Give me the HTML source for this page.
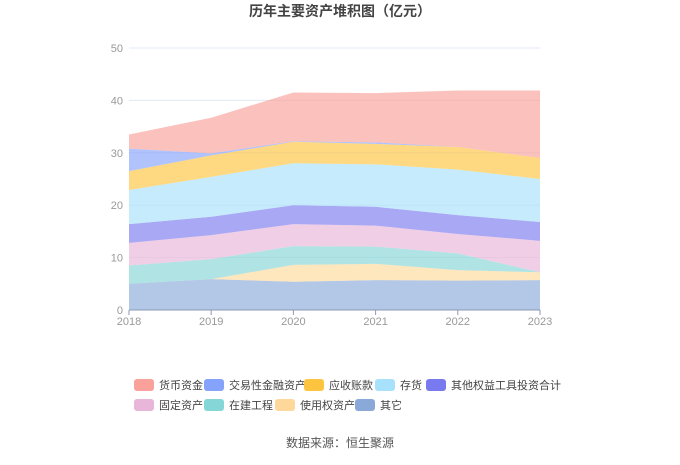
<!DOCTYPE html>
<html><head><meta charset="utf-8">
<style>
body{margin:0;background:#fff;font-family:"Liberation Sans","Noto Sans CJK SC",sans-serif;}
svg text{font-family:"Liberation Sans","Noto Sans CJK SC",sans-serif;}
</style></head>
<body>
<svg id="chart" width="680" height="460" viewBox="0 0 680 460" xmlns="http://www.w3.org/2000/svg">
<text x="340" y="16" text-anchor="middle" font-size="14" font-weight="bold" fill="#444">历年主要资产堆积图（亿元）</text>
<g id="grid"></g><g id="areas"></g><g id="axes"></g><g id="legend"></g>
<text x="340" y="447" text-anchor="middle" font-size="12" fill="#555">数据来源：恒生聚源</text>
</svg>
<script>
const years = ["2018","2019","2020","2021","2022","2023"];
const seriesNames = ["其它","使用权资产","在建工程","固定资产","其他权益工具投资合计","存货","应收账款","交易性金融资产","货币资金"];
const qita = [5.0,5.9,5.4,5.7,5.6,5.7];
const shiyongquan = [0,0,3.2,3.1,2.0,1.5];
const zaijian = [3.5,3.8,3.6,3.3,3.2,0];
const guding = [4.3,4.6,4.2,4.0,3.7,6.0];
const qitaquanyi = [3.6,3.5,3.6,3.6,3.6,3.6];
const cunhuo = [6.5,7.6,8.0,8.1,8.7,8.2];
const yingshou = [3.6,4.1,4.1,3.9,4.3,4.0];
const jiaoyi = [4.3,0.4,0.1,0.3,0,0];
const huobi = [2.7,6.8,9.3,9.4,10.8,12.9];
const yTicks = [0,10,20,30,40,50];
const seriesData = [qita,shiyongquan,zaijian,guding,qitaquanyi,cunhuo,yingshou,jiaoyi,huobi];
const areaColors = ["#8aa9d9","#fdd89a","#85d6d6","#e8b6d8","#7a7af0","#a8e1fb","#fdc43f","#85a3fb","#f9a19a"];
const legendColors = areaColors;
const NS="http://www.w3.org/2000/svg";
const x0=129,x1=540,yBase=310,yTop=48;
const xs=i=>x0+(x1-x0)*i/(years.length-1);
const ys=v=>yBase-(yBase-yTop)*v/50;
function mk(tag,attrs,parent){const e=document.createElementNS(NS,tag);for(const k in attrs)e.setAttribute(k,attrs[k]);parent.appendChild(e);return e;}
const grid=document.getElementById('grid'),axes=document.getElementById('axes'),areas=document.getElementById('areas'),legend=document.getElementById('legend');
yTicks.forEach(t=>{
  if(t>0){const l=mk('line',{x1:x0,x2:x1,y1:ys(t),y2:ys(t),stroke:'#e3e8f5','stroke-width':1},grid);
  
  }
  const tx=mk('text',{x:x0-6,y:ys(t)+4,'text-anchor':'end','font-size':11,fill:'#999'},axes);tx.textContent=t;
  
  
});
let cum=years.map(()=>0);
seriesData.forEach((s,si)=>{
  const low=cum.slice();const high=cum.map((c,i)=>c+s[i]);
  let d='M'+years.map((_,i)=>xs(i)+','+ys(high[i])).join(' L');
  for(let i=years.length-1;i>=0;i--)d+=' L'+xs(i)+','+ys(low[i]);
  d+=' Z';
  const p=mk('path',{d:d,fill:areaColors[si],'fill-opacity':0.65,stroke:'none'},areas);
  
  
  cum=high;
});
const ax=mk('line',{x1:x0,x2:x1,y1:yBase,y2:yBase,stroke:'#8a9ab5','stroke-width':1},axes);


years.forEach((y,i)=>{
  mk('line',{x1:xs(i),x2:xs(i),y1:yBase,y2:yBase+5,stroke:'#8a9ab5'},axes);
  const t=mk('text',{x:xs(i),y:yBase+15,'text-anchor':'middle','font-size':11,fill:'#999'},axes);t.textContent=y;
  
  
});
const legendOrder=[8,7,6,5,4,3,2,1,0];
const legendPos=[[134,385],[204,385],[304,385],[375,385],[426,385],[134,405],[204,405],[275,405],[355,405]];
legendOrder.forEach((si,k)=>{
  const [lx,ly]=legendPos[k];
  const g=mk('g',{},legend);
  
  
  mk('rect',{x:lx,y:ly-6,width:20,height:12,rx:3,fill:legendColors[si]},g);
  const t=mk('text',{x:lx+25,y:ly+4,'font-size':11,fill:'#444'},g);t.textContent=seriesNames[si];
});
</script>
</body></html>
